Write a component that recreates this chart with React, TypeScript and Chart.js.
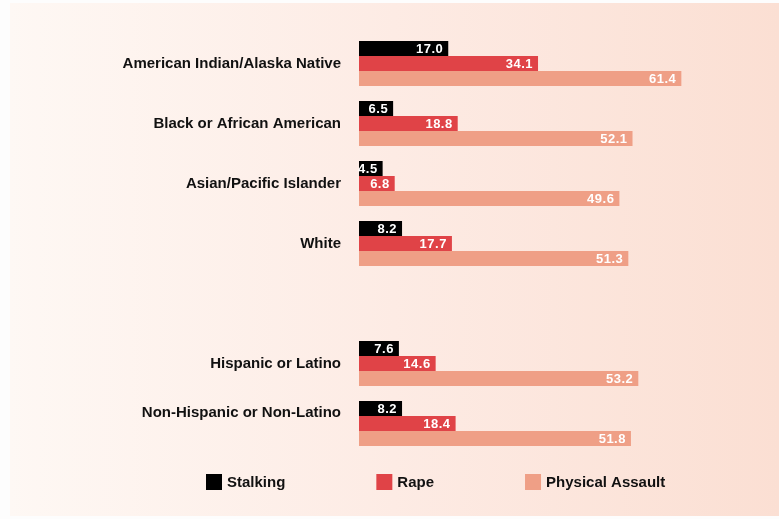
import React, { useEffect, useRef } from "react";
import { Chart, registerables } from "chart.js";

Chart.register(...registerables);

const categories = [
  "American Indian/Alaska Native",
  "Black or African American",
  "Asian/Pacific Islander",
  "White",
  "",
  "Hispanic or Latino",
  "Non-Hispanic or Non-Latino",
];
const stalking = [17.0, 6.5, 4.5, 8.2, null, 7.6, 8.2];
const rape = [34.1, 18.8, 6.8, 17.7, null, 14.6, 18.4];
const physicalAssault = [61.4, 52.1, 49.6, 51.3, null, 53.2, 51.8];
const seriesNames = ["Stalking", "Rape", "Physical Assault"];
const seriesColors = ["#000000", "#e04347", "#ef9f86"];
// categories whose label sits raised (between first and second bar) in the original
const raisedLabels = ["Non-Hispanic or Non-Latino"];

const FONT = "'Liberation Sans', Arial, sans-serif";

const backgroundPlugin = {
  id: "panelBg",
  beforeDraw(chart: any) {
    const { ctx, width, height } = chart;
    ctx.save();
    ctx.fillStyle = "#fdfdfd";
    ctx.fillRect(0, 0, width, height);
    const g = ctx.createLinearGradient(10, 0, width, 0);
    g.addColorStop(0, "#fef8f4");
    g.addColorStop(0.5, "#fdebe4");
    g.addColorStop(1, "#fbdfd3");
    ctx.fillStyle = g;
    ctx.fillRect(10, 3, width - 10, height - 6);
    ctx.restore();
  },
};

const categoryLabelPlugin = {
  id: "categoryLabels",
  afterDraw(chart: any) {
    const { ctx } = chart;
    const y = chart.scales.y;
    ctx.save();
    ctx.font = `bold 15px ${FONT}`;
    ctx.fillStyle = "#111111";
    ctx.textAlign = "right";
    ctx.textBaseline = "middle";
    chart.data.labels.forEach((lbl: string, i: number) => {
      if (!lbl) return;
      const step = y.getPixelForValue(1) - y.getPixelForValue(0);
      const off = raisedLabels.includes(lbl) ? -step * 0.18 : 0;
      ctx.fillText(lbl, y.right - 18, y.getPixelForValue(i) + off);
    });
    ctx.restore();
  },
};

const valueLabelPlugin = {
  id: "valueLabels",
  afterDatasetsDraw(chart: any) {
    const { ctx } = chart;
    ctx.save();
    ctx.font = `bold 13px ${FONT}`;
    try {
      (ctx as any).letterSpacing = "0.5px";
    } catch (e) {}
    ctx.fillStyle = "#ffffff";
    ctx.textAlign = "right";
    ctx.textBaseline = "middle";
    chart.data.datasets.forEach((ds: any, di: number) => {
      const meta = chart.getDatasetMeta(di);
      meta.data.forEach((bar: any, i: number) => {
        const v = ds.data[i];
        if (v === null || v === undefined) return;
        ctx.fillText(v.toFixed(1), bar.x - 5, bar.y + 1);
      });
    });
    ctx.restore();
  },
};

const legendPlugin = {
  id: "customLegend",
  afterDraw(chart: any) {
    const { ctx } = chart;
    ctx.save();
    ctx.font = `bold 15px ${FONT}`;
    ctx.textBaseline = "middle";
    ctx.textAlign = "left";
    let x = 206;
    const y = 482;
    chart.data.datasets.forEach((ds: any) => {
      ctx.fillStyle = ds.backgroundColor;
      ctx.fillRect(x, y - 8, 16, 16);
      ctx.fillStyle = "#111111";
      ctx.fillText(ds.label, x + 21, y + 1);
      x += 21 + ctx.measureText(ds.label).width + 91;
    });
    ctx.restore();
  },
};

export default function App() {
  const ref = useRef<HTMLCanvasElement | null>(null);
  useEffect(() => {
    if (!ref.current) return;
    const values = [stalking, rape, physicalAssault];
    const chart = new Chart(ref.current, {
      type: "bar",
      data: {
        labels: categories,
        datasets: values.map((d, i) => ({
          label: seriesNames[i],
          data: d,
          backgroundColor: seriesColors[i],
          borderWidth: 0,
          categoryPercentage: 0.75,
          barPercentage: 1.0,
        })),
      },
      options: {
        indexAxis: "y",
        animation: false,
        responsive: true,
        maintainAspectRatio: false,
        layout: { padding: { top: 33.5, bottom: 65.5, left: 0, right: 0 } },
        plugins: {
          legend: { display: false },
          tooltip: { enabled: false },
        },
        scales: {
          x: {
            display: false,
            min: 0,
            max: 80,
          },
          y: {
            grid: { display: false, drawTicks: false },
            border: { display: false },
            ticks: { display: false },
            afterFit(scale: any) {
              scale.width = 359;
            },
          },
        },
      },
      plugins: [backgroundPlugin, valueLabelPlugin, categoryLabelPlugin, legendPlugin],
    });
    return () => chart.destroy();
  }, []);
  return (
    <div style={{ position: "fixed", left: 0, top: 0, width: 779, height: 519 }}>
      <canvas ref={ref} />
    </div>
  );
}
